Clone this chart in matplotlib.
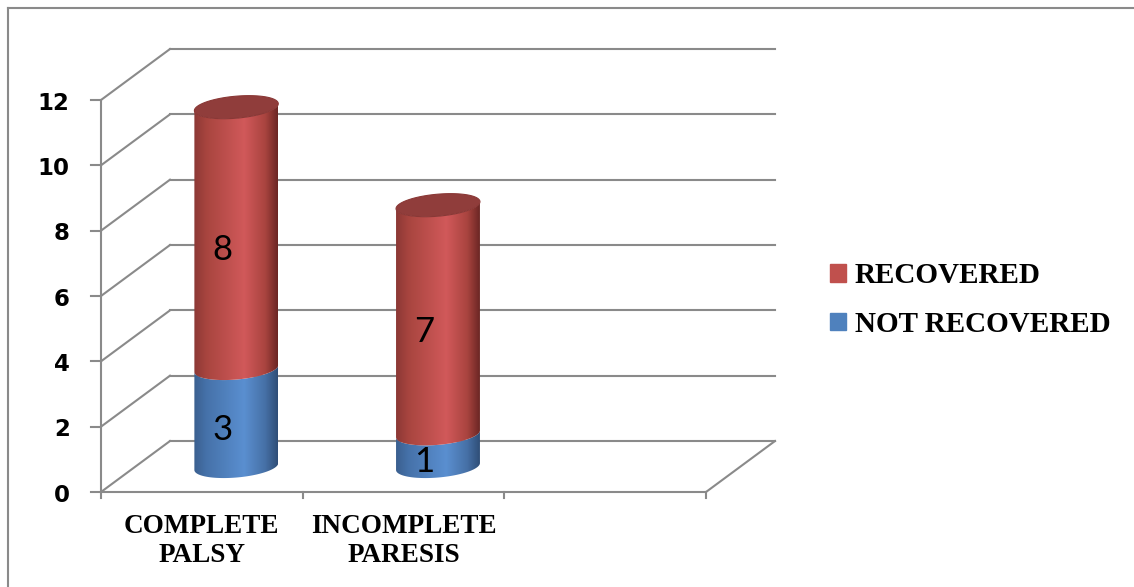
import matplotlib
matplotlib.use("Agg")
import matplotlib.pyplot as plt
import numpy as np
from matplotlib.colors import LinearSegmentedColormap
from matplotlib.patches import Polygon, Patch
from matplotlib.lines import Line2D

categorias = ["COMPLETE\nPALSY", "INCOMPLETE\nPARESIS"]
no_recuperados = [3, 1]
recuperados = [8, 7]
series = ["RECOVERED", "NOT RECOVERED"]
marcas_y = [0, 2, 4, 6, 8, 10, 12]

W, H = 1134, 587
fig = plt.figure(figsize=(W / 100, H / 100), dpi=100)

# ejes a toda la figura, escala: 1 categoria = 201.67 px, 1 unidad = 32.67 px
ax = fig.add_axes([0, 0, 1, 1])
ax.set_xlim(-101 / 201.67, (W - 101) / 201.67)
ax.set_ylim((492 - H) / 32.667, 492 / 32.667)
ax.axis("off")

DX, DY = 0.342, 1.56   # profundidad del 3D
gris = "#8a8a8a"
n_huecos = 3

# pared del fondo, lateral y suelo
for v in marcas_y:
    ax.plot([DX, n_huecos + DX], [v + DY, v + DY], color=gris, lw=1.5)
    ax.plot([0, DX], [v, v + DY], color=gris, lw=1.5)
    ax.plot([-0.05, 0], [v, v], color=gris, lw=1.5)
    ax.text(-0.155, v - 0.1, str(v), ha="right", va="center", fontsize=16.5,
            fontweight="bold", family="DejaVu Sans")

ax.plot([0, 0], [0, marcas_y[-1]], color=gris, lw=1.5)
ax.plot([0, n_huecos], [0, 0], color=gris, lw=1.5)
ax.plot([n_huecos, n_huecos + DX], [0, DY], color=gris, lw=1.5)
for i in range(n_huecos + 1):
    ax.plot([i, i], [0, -0.18], color=gris, lw=1.5)

rojo = LinearSegmentedColormap.from_list("rojo", [
    (0, "#8c3835"), (0.15, "#a8453f"), (0.6, "#d1595a"), (0.85, "#a9443f"), (1, "#6b2624")])
azul = LinearSegmentedColormap.from_list("azul", [
    (0, "#3a5f8f"), (0.15, "#4672aa"), (0.6, "#5a8fd0"), (0.85, "#4670a6"), (1, "#2f4e77")])

a, b, k = 0.208, 0.337, 0.51
grad = np.linspace(0, 1, 256).reshape(1, -1)


def cilindro(cx, v0, v1, cmap, tapa=None):
    t = np.linspace(np.pi, 2 * np.pi, 80)
    xs = cx + a * np.cos(t)
    abajo = v0 + DY / 2 + b * np.sin(t) + k * (xs - cx)
    arriba = v1 + DY / 2 + b * np.sin(t) + k * (xs - cx)
    pts = np.column_stack([np.concatenate([xs, xs[::-1]]),
                           np.concatenate([abajo, arriba[::-1]])])
    cuerpo = Polygon(pts, closed=True, facecolor="none", edgecolor="none")
    ax.add_patch(cuerpo)
    im = ax.imshow(grad, cmap=cmap, aspect="auto", zorder=3,
                   extent=[cx - a, cx + a, v0 + DY / 2 - b - 0.3, v1 + DY / 2 + 0.3])
    im.set_clip_path(cuerpo)
    if tapa:
        tt = np.linspace(0, 2 * np.pi, 120)
        ex = cx + a * np.cos(tt)
        ey = v1 + DY / 2 + b * np.sin(tt) + k * (ex - cx)
        ax.add_patch(Polygon(np.column_stack([ex, ey]), closed=True,
                             facecolor=tapa, edgecolor="#8a3836", lw=0.8, zorder=4))


for i, (nr, r) in enumerate(zip(no_recuperados, recuperados)):
    cx = i + 0.5 + DX / 2
    cilindro(cx, 0, nr, azul)
    cilindro(cx, nr, nr + r, rojo, tapa="#903d3b")
    for v0, v1 in [(0, nr), (nr, nr + r)]:
        ax.text(cx - 0.07, (v0 + v1) / 2 + DY / 2 - 0.37, str(v1 - v0), ha="center",
                va="center", fontsize=25, family="Lato", zorder=5)
    ax.text(i + 0.5, -0.66, categorias[i], ha="center", va="top", family="Liberation Serif",
            fontweight="bold", fontsize=19.5, linespacing=1.25)

ax.set_xlim(-101 / 201.67, (W - 101) / 201.67)
ax.set_ylim((492 - H) / 32.667, 492 / 32.667)

fig.legend(handles=[Patch(color="#c0504d"), Patch(color="#4f81bd")], labels=series,
           loc="center left", bbox_to_anchor=(830 / W, 1 - 300 / H), frameon=False,
           prop=dict(family="Liberation Serif", weight="bold", size=21),
           handlelength=0.55, handleheight=0.55, handletextpad=0.3,
           labelspacing=0.75, borderpad=0, borderaxespad=0)

# marco exterior (cortado por la derecha y abajo)
fig.add_artist(Line2D([8 / W, 8 / W], [0, 1 - 8 / H], color=gris, lw=1.5))
fig.add_artist(Line2D([8 / W, 1], [1 - 8 / H, 1 - 8 / H], color=gris, lw=1.5))

fig.savefig("out.png", dpi=100)
